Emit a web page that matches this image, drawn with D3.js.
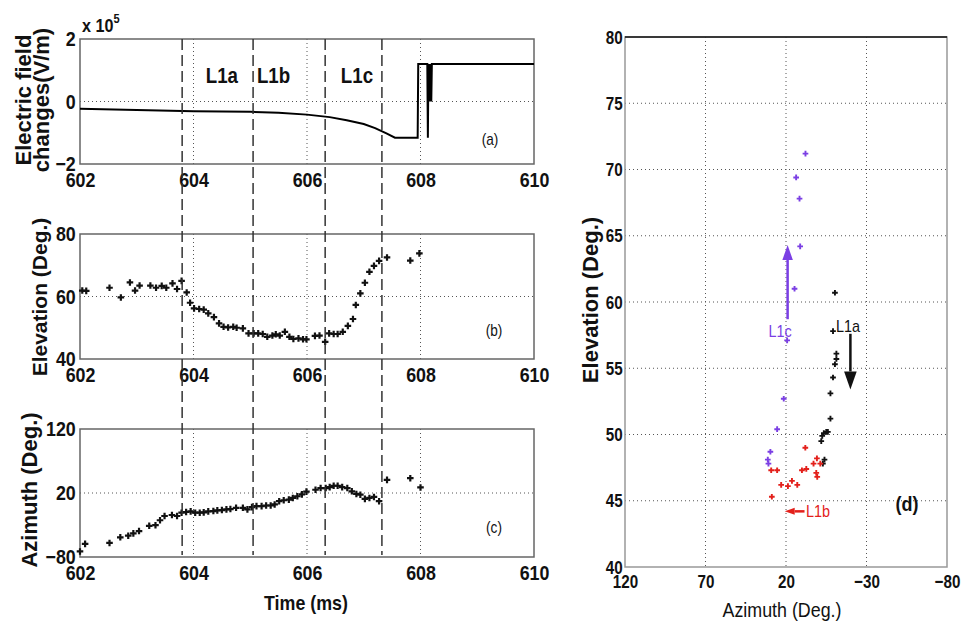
<!DOCTYPE html>
<html lang="en">
<head>
<meta charset="utf-8">
<style>
  html, body { margin: 0; padding: 0; background: #fff; }
  text { font-family: "Liberation Sans", Arial, sans-serif; fill: #111; }
  .tick text { font-size: 21px; font-weight: bold; }
  .frame { fill: none; stroke: #666; stroke-width: 1.5; }
  .grid { stroke: #555; stroke-width: 1; stroke-dasharray: 1,3; }
  .seg { stroke: #333; stroke-width: 1.5; stroke-dasharray: 11,5; }
</style>
</head>
<body>
<svg id="chart" width="961" height="629"></svg>
<script src="https://cdn.jsdelivr.net/npm/d3@7"></script>
<script>
// ---- data ----
const timeTicks = [602, 604, 606, 608, 610]
const gridTimes = [604, 606, 608]
const segmentTimes = [603.8, 605.05, 606.32, 607.32]   // dashed stage boundaries
const segmentNames = ["L1a", "L1b", "L1c"]

// (a) electric field change, x 10^5 V/m
const efTime = [602, 603, 604, 605, 605.5, 606, 606.4, 606.7, 607, 607.2, 607.4, 607.55, 607.95, 607.96,
  608.12, 608.13, 608.14, 608.15, 608.16, 608.17, 608.18, 608.19, 608.2, 610]
const efValue = [-0.23, -0.27, -0.31, -0.33, -0.36, -0.42, -0.5, -0.6, -0.72, -0.85, -1.02, -1.16, -1.16, 1.2,
  1.2, -1.16, 1.2, 0, 1.2, 0, 1.2, 0, 1.2, 1.2]
const efTicks = [-2, 0, 2]

// (b) elevation vs time
const elTime = [602.04, 602.11, 602.52, 602.72, 602.88, 602.97, 603.05, 603.24, 603.34, 603.44, 603.52, 603.63,
  603.71, 603.79, 603.88, 603.94, 604.01, 604.10, 604.18, 604.26, 604.36, 604.45, 604.53, 604.61, 604.70,
  604.76, 604.87, 604.97, 605.06, 605.14, 605.22, 605.30, 605.39, 605.45, 605.52, 605.61, 605.69, 605.76,
  605.85, 605.93, 605.99, 606.14, 606.22, 606.32, 606.39, 606.47, 606.54, 606.63, 606.72, 606.81, 606.86,
  606.94, 607.02, 607.10, 607.18, 607.27, 607.41, 607.82, 607.98]
const elValue = [61.9, 61.8, 62.8, 59.7, 64.5, 61.9, 63.5, 63.5, 62.8, 63.4, 62.8, 64.2,
  62.4, 65.0, 61.3, 58.0, 56.2, 56.0, 55.8, 54.6, 53.4, 51.4, 50.3, 50.1, 50.3,
  50.0, 49.8, 48.2, 48.2, 48.2, 48.0, 47.1, 47.5, 47.9, 47.5, 48.7, 47.1, 46.4,
  46.6, 46.3, 46.3, 47.4, 47.5, 45.5, 48.2, 48.0, 48.0, 48.7, 50.6, 52.8, 57.3,
  61.0, 64.4, 67.9, 69.8, 71.4, 72.5, 71.5, 73.8]
const elTicks = [40, 60, 80]

// (c) azimuth vs time
const azTime = [602.0, 602.09, 602.52, 602.71, 602.85, 602.94, 603.04, 603.22, 603.33, 603.41, 603.49, 603.62,
  603.71, 603.79, 603.87, 603.95, 604.03, 604.11, 604.18, 604.26, 604.35, 604.42, 604.50, 604.58, 604.65,
  604.75, 604.87, 604.95, 605.03, 605.11, 605.20, 605.28, 605.36, 605.43, 605.51, 605.59, 605.68, 605.75,
  605.83, 605.91, 605.99, 606.15, 606.24, 606.33, 606.40, 606.47, 606.54, 606.62, 606.71, 606.79, 606.87,
  606.94, 607.02, 607.10, 607.18, 607.27, 607.41, 607.82, 608.0]
const azValue = [-71.3, -59.5, -58.0, -49.2, -46.7, -43.1, -39.5, -31.3, -30.3, -22.6, -15.9, -14.4,
  -15.9, -10.8, -9.7, -8.7, -10.8, -10.8, -10.3, -8.7, -8.2, -7.2, -6.7, -5.6, -5.1,
  -3.1, -3.1, -5.6, -2.1, -0.5, -0.5, 0.5, 0.5, 2.1, 7.2, 8.7, 9.7, 12.3,
  14.9, 17.9, 22.1, 25.1, 27.7, 27.7, 29.2, 31.3, 31.3, 29.2, 27.7, 22.6, 18.5,
  17.4, 10.8, 12.3, 13.8, 7.2, 40.5, 43.1, 28.7]
const azTicks = [-80, 20, 120]

// (d) elevation vs azimuth, by stage
const l1aAz = [-10.4, -9.2, -11.3, -11.3, -10.4, -9.2, -7.6, -7.6, -5.0, -6.0, -3.5, -2.5, -1.9, -3.9, -2.9]
const l1aEl = [60.7, 57.8, 56.1, 55.7, 55.3, 54.3, 53.1, 51.2, 50.2, 50.2, 50.1, 49.9, 49.5, 48.1, 47.8]
const l1bAz = [29.2, 25.5, 28.8, 23.0, 18.8, 16.3, 13.0, 10.1, 7.4, 8.0, 2.9, 0.8, 1.2, 0.6, -1.3]
const l1bEl = [47.3, 47.3, 45.3, 46.2, 46.1, 46.5, 46.2, 47.3, 47.4, 49.0, 47.8, 48.2, 47.1, 46.8, 47.8]
const l1cAz = [7.9, 13.7, 11.6, 11.2, 14.7, 19.3, 21.4, 25.5, 29.7, 31.3, 30.9]
const l1cEl = [71.2, 69.4, 67.8, 64.2, 61.0, 57.1, 52.7, 50.4, 48.7, 48.1, 47.8]
const dAzTicks = [120, 70, 20, -30, -80]
const dElTicks = [40, 45, 50, 55, 60, 65, 70, 75, 80]

const colL1a = "#111", colL1b = "#e3201b", colL1c = "#7b3fe4"

// ---- layout ----
const svg = d3.select("#chart")
svg.append("rect").attr("width", 961).attr("height", 629).attr("fill", "#fff")

const x = d3.scaleLinear().domain([602, 610]).range([80, 534])
const yA = d3.scaleLinear().domain([-2, 2]).range([164, 39])
const yB = d3.scaleLinear().domain([40, 80]).range([359, 234])
const yC = d3.scaleLinear().domain([-80, 120]).range([557, 429])

const marker = d3.symbol().type(d3.symbolCross).size(24)

// text squeezed horizontally to mimic the condensed original font
function label (g, px, py, str, o = {}) {
  return g.append("text")
    .attr("transform", `translate(${px},${py})${o.rotate ? ` rotate(${o.rotate})` : ""} scale(${o.sx || 1},1)`)
    .attr("text-anchor", o.anchor || "middle")
    .style("font-size", (o.size || 16) + "px")
    .style("font-weight", o.bold ? "bold" : "normal")
    .style("fill", o.color || "#111")
    .text(str)
}

function squeeze (axisG, k) {
  axisG.select(".domain").remove()
  axisG.selectAll(".tick text").attr("transform", `scale(${k},1)`)
}

function timePanel (y, ticks, gridVal) {
  const g = svg.append("g")
  const [y0, y1] = y.range()
  g.selectAll("line.gx").data(gridTimes).enter().append("line")
    .attr("class", "grid")
    .attr("x1", d => x(d)).attr("x2", d => x(d))
    .attr("y1", y1).attr("y2", y0)
  g.append("line").attr("class", "grid")
    .attr("x1", x.range()[0]).attr("x2", x.range()[1])
    .attr("y1", y(gridVal)).attr("y2", y(gridVal))
  g.append("rect").attr("class", "frame")
    .attr("x", x.range()[0]).attr("y", y1)
    .attr("width", x.range()[1] - x.range()[0]).attr("height", y0 - y1)
  g.append("g").attr("transform", `translate(0,${y0})`)
    .call(d3.axisBottom(x).tickValues(timeTicks).tickFormat(d3.format("d")).tickSize(0).tickPadding(8))
    .call(a => squeeze(a, 0.85))
  g.append("g").attr("transform", `translate(${x.range()[0]},0)`)
    .call(d3.axisLeft(y).tickValues(ticks).tickFormat(d3.format("d")).tickSize(0).tickPadding(5))
    .call(a => squeeze(a, 0.85))
  return g
}

// (a)
const gA = timePanel(yA, efTicks, 0)
gA.append("path")
  .datum(d3.zip(efTime, efValue))
  .attr("fill", "none").attr("stroke", "#000").attr("stroke-width", 2)
  .attr("d", d3.line().x(d => x(d[0])).y(d => yA(d[1])))
const sci = gA.append("text").attr("transform", "translate(82,32) scale(0.85,1)")
  .style("font-size", "19px").style("font-weight", "bold")
sci.append("tspan").text("x 10")
sci.append("tspan").attr("dy", -9).style("font-size", "13px").text("5")
label(gA, 490, 145, "(a)", { size: 16, sx: 0.85 })
const labelTimes = [604.5, 605.41, 606.88]
segmentNames.forEach((name, i) => label(gA, x(labelTimes[i]), 83, name, { size: 22, bold: true, sx: 0.85 }))
label(gA, 31, 100, "Electric field", { size: 22, bold: true, rotate: -90 })
label(gA, 49, 100, "changes(V/m)", { size: 22, bold: true, rotate: -90 })

// (b)
const gB = timePanel(yB, elTicks, 60)
gB.selectAll("path.pt").data(d3.zip(elTime, elValue)).enter().append("path")
  .attr("class", "pt").attr("d", marker).attr("fill", "#111")
  .attr("transform", d => `translate(${x(d[0])},${yB(d[1])})`)
label(gB, 494, 336, "(b)", { size: 16, sx: 0.85 })
label(gB, 47, 297, "Elevation (Deg.)", { size: 21, bold: true, rotate: -90 })

// (c)
const gC = timePanel(yC, azTicks, 20)
gC.selectAll("path.pt").data(d3.zip(azTime, azValue)).enter().append("path")
  .attr("class", "pt").attr("d", marker).attr("fill", "#111")
  .attr("transform", d => `translate(${x(d[0])},${yC(d[1])})`)
label(gC, 494, 533, "(c)", { size: 16, sx: 0.85 })
label(gC, 37, 490, "Azimuth (Deg.)", { size: 22, bold: true, rotate: -90 })
label(gC, 306, 610, "Time (ms)", { size: 21, bold: true, sx: 0.85 })

// stage boundaries across a-c
svg.selectAll("line.seg").data(segmentTimes).enter().append("line")
  .attr("class", "seg")
  .attr("x1", d => x(d)).attr("x2", d => x(d))
  .attr("y1", yA.range()[1]).attr("y2", yC.range()[0] - 2)

// (d)
const xD = d3.scaleLinear().domain([120, -80]).range([625, 947])
const yD = d3.scaleLinear().domain([40, 80]).range([567, 37])
const gD = svg.append("g")
gD.selectAll("line.gx").data(dAzTicks.slice(1, -1)).enter().append("line")
  .attr("class", "grid").attr("x1", d => xD(d)).attr("x2", d => xD(d))
  .attr("y1", yD(80)).attr("y2", yD(40))
gD.selectAll("line.gy").data(dElTicks.slice(1, -1)).enter().append("line")
  .attr("class", "grid").attr("y1", d => yD(d)).attr("y2", d => yD(d))
  .attr("x1", xD(120)).attr("x2", xD(-80))
gD.append("rect").attr("x", xD(120)).attr("y", yD(80))
  .attr("width", xD(-80) - xD(120)).attr("height", yD(40) - yD(80))
  .attr("fill", "none").attr("stroke", "#999").attr("stroke-width", 1.5)
gD.append("line").attr("x1", xD(120)).attr("x2", xD(-80)).attr("y1", yD(80)).attr("y2", yD(80))
  .attr("stroke", "#111").attr("stroke-width", 1.5)
gD.append("g").attr("transform", `translate(0,${yD(40)})`)
  .call(d3.axisBottom(xD).tickValues(dAzTicks).tickFormat(d3.format("d")).tickSize(0).tickPadding(8))
  .call(a => squeeze(a, 0.8))
  .selectAll("text").style("font-size", "19px")
gD.append("g").attr("transform", `translate(${xD(120)},0)`)
  .call(d3.axisLeft(yD).tickValues(dElTicks).tickFormat(d3.format("d")).tickSize(0).tickPadding(3))
  .call(a => squeeze(a, 0.8))
  .selectAll("text").style("font-size", "19px")

const stages = [
  { az: l1aAz, el: l1aEl, color: colL1a },
  { az: l1bAz, el: l1bEl, color: colL1b },
  { az: l1cAz, el: l1cEl, color: colL1c }
]
stages.forEach(s => {
  gD.selectAll(null).data(d3.zip(s.az, s.el)).enter().append("path")
    .attr("d", d3.symbol().type(d3.symbolCross).size(18)).attr("fill", s.color)
    .attr("transform", d => `translate(${xD(d[0])},${yD(d[1])})`)
})

// arrows
function arrow (x1, y1, x2, y2, color, head) {
  const ang = Math.atan2(y2 - y1, x2 - x1)
  const bx = x2 - head * Math.cos(ang), by = y2 - head * Math.sin(ang)
  gD.append("line").attr("x1", x1).attr("y1", y1).attr("x2", bx).attr("y2", by)
    .attr("stroke", color).attr("stroke-width", 2.5)
  const w = head * 0.35
  const px = -Math.sin(ang) * w, py = Math.cos(ang) * w
  gD.append("path")
    .attr("d", `M${x2},${y2}L${bx + px},${by + py}L${bx - px},${by - py}Z`)
    .attr("fill", color)
}
arrow(xD(19), yD(58.7), xD(19), yD(64.3), colL1c, 15)
arrow(xD(-20), yD(57.6), xD(-20), yD(53.4), colL1a, 18)
arrow(xD(8.5), yD(44.2), xD(20.8), yD(44.2), colL1b, 10)

label(gD, 780, 337, "L1c", { size: 16, color: colL1c, sx: 0.9 })
label(gD, 848, 332, "L1a", { size: 16, color: colL1a, sx: 0.9 })
label(gD, 806, 517, "L1b", { size: 16, color: colL1b, sx: 0.9, anchor: "start" })
label(gD, 907, 511, "(d)", { size: 20, bold: true, sx: 0.9 })
label(gD, 598, 300, "Elevation (Deg.)", { size: 22, bold: true, rotate: -90 })
label(gD, 782, 617, "Azimuth (Deg.)", { size: 21, sx: 0.85 })
</script>
</body>
</html>
